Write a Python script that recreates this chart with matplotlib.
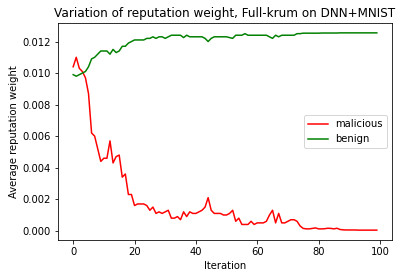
import matplotlib
matplotlib.use("Agg")
import matplotlib.pyplot as plt
import numpy as np

malicious = [0.0104, 0.0110, 0.0103, 0.0101, 0.0097, 0.0087, 0.0062, 0.0060, 0.0052, 0.0044,
             0.0046, 0.0046, 0.0057, 0.0043, 0.0047, 0.0048, 0.0034, 0.0036, 0.0023, 0.0023,
             0.0016, 0.0017, 0.0017, 0.0017, 0.0016, 0.0013, 0.0015, 0.0011, 0.0012, 0.0011,
             0.0012, 0.0013, 0.0008, 0.0008, 0.0009, 0.0007, 0.0012, 0.0009, 0.0012, 0.0011,
             0.0011, 0.0012, 0.0013, 0.0015, 0.0021, 0.0013, 0.0011, 0.0011, 0.0011, 0.0010,
             0.0010, 0.0011, 0.0013, 0.0006, 0.0008, 0.0004, 0.0004, 0.0004, 0.0006, 0.0004,
             0.0005, 0.0005, 0.0005, 0.0006, 0.0010, 0.0013, 0.0005, 0.0011, 0.0005, 0.0005,
             0.0006, 0.0007, 0.0007, 0.0006, 0.0003, 0.00015, 0.00012, 0.00012, 0.00015, 0.00018,
             0.00012, 0.00012, 0.00013, 0.00016, 0.00015, 0.00012, 0.00016, 0.00008, 0.00006, 0.00005,
             0.00005, 0.00005, 0.00005, 0.00004, 0.00004, 0.00004, 0.00004, 0.00004, 0.00004, 0.00004]

benign = [0.0099, 0.0098, 0.0099, 0.0100, 0.0101, 0.0104, 0.0109, 0.0110, 0.0112, 0.0114,
          0.0114, 0.0114, 0.0112, 0.0115, 0.0113, 0.0114, 0.0117, 0.0117, 0.0119, 0.0120,
          0.0121, 0.0121, 0.0121, 0.0121, 0.0122, 0.0122, 0.0123, 0.0122, 0.0123, 0.0123,
          0.0122, 0.0123, 0.0124, 0.0124, 0.0124, 0.0124, 0.01225, 0.0124, 0.0123, 0.0123,
          0.0123, 0.0123, 0.0123, 0.0122, 0.0120, 0.0122, 0.0123, 0.0123, 0.0123, 0.0123,
          0.0123, 0.01225, 0.0122, 0.0124, 0.0124, 0.0124, 0.0125, 0.0124, 0.0124, 0.0124,
          0.0124, 0.0124, 0.0124, 0.0124, 0.0123, 0.0122, 0.0124, 0.0123, 0.0124, 0.0124,
          0.0124, 0.0124, 0.0124, 0.0125, 0.0125, 0.01253, 0.01253, 0.01253, 0.01253, 0.01253,
          0.01253, 0.01254, 0.01254, 0.01254, 0.01254, 0.01254, 0.01254, 0.01255, 0.01255, 0.01255,
          0.01255, 0.01255, 0.01255, 0.01255, 0.01255, 0.01255, 0.01255, 0.01255, 0.01255, 0.01255]

iterations = np.arange(len(malicious))

fig = plt.figure(figsize=(402/72, 278/72), dpi=72)
ax = fig.add_axes([58/402, 1-240/278, (392-58)/402, (240-23)/278])
ax.plot(iterations, malicious, color='red', label='malicious')
ax.plot(iterations, benign, color='green', label='benign')
ax.set_title('Variation of reputation weight, Full-krum on DNN+MNIST')
ax.set_xlabel('Iteration')
ax.set_ylabel('Average reputation weight')
ax.legend(loc='center right')
fig.savefig('out.png', dpi=72)
